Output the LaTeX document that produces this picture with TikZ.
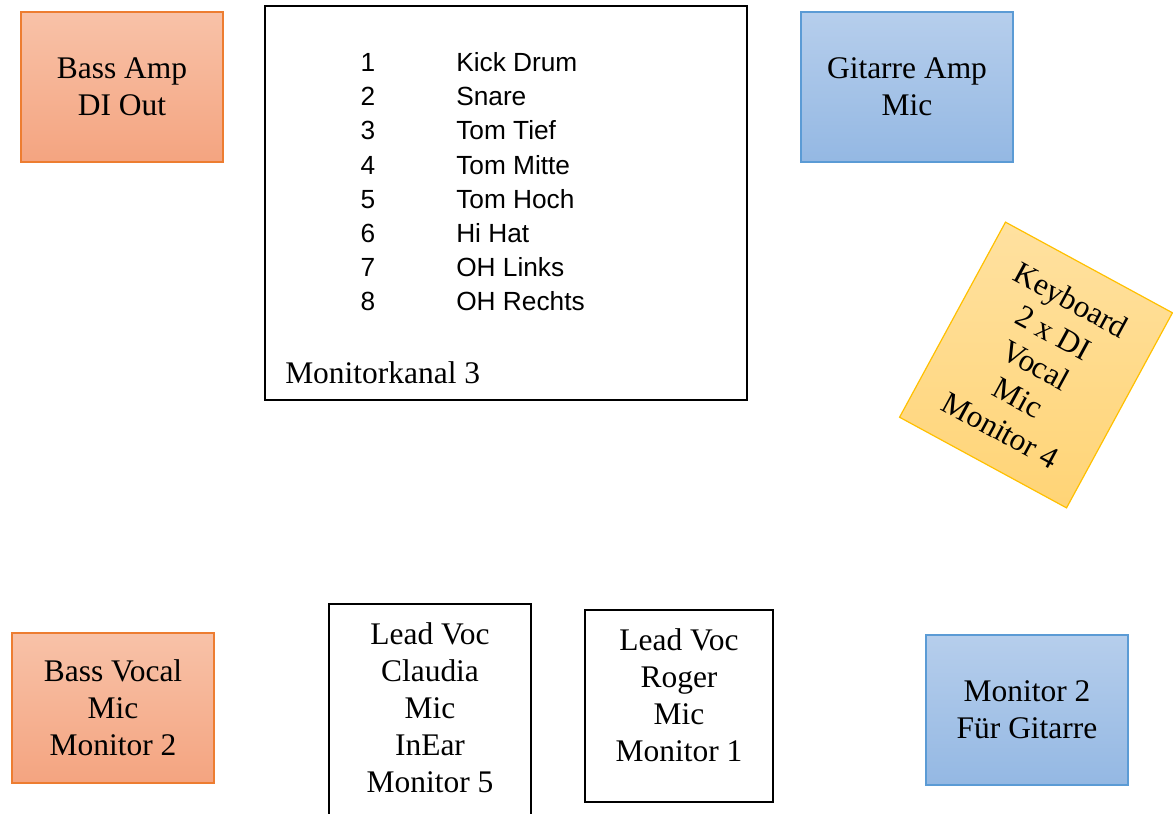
\documentclass[tikz,border=0pt]{standalone}
\usepackage{fontspec}
\setmainfont{Liberation Serif}
\newfontfamily\listfont{Liberation Sans}
\definecolor{orTop}{RGB}{248,194,168}
\definecolor{orBot}{RGB}{244,164,128}
\definecolor{orLine}{RGB}{237,125,49}
\definecolor{blTop}{RGB}{182,206,236}
\definecolor{blBot}{RGB}{148,184,227}
\definecolor{blLine}{RGB}{91,155,213}
\definecolor{yeTop}{RGB}{255,225,160}
\definecolor{yeBot}{RGB}{255,212,118}
\definecolor{yeLine}{RGB}{255,192,0}
\tikzset{
  lbl/.style={font=\fontsize{23.6}{27.75}\selectfont, align=center, inner sep=0pt},
  orbox/.style={draw=orLine, line width=0.9pt, top color=orTop, bottom color=orBot, inner sep=0pt, lbl},
  blbox/.style={draw=blLine, line width=0.9pt, top color=blTop, bottom color=blBot, inner sep=0pt, lbl},
  yebox/.style={draw=yeLine, line width=0.9pt, top color=yeTop, bottom color=yeBot, inner sep=0pt, lbl},
  wbox/.style={draw=black, line width=1.1pt, fill=white, inner sep=0pt},
  li/.style={font=\listfont\fontsize{19.7}{25.5}\selectfont, inner sep=0pt, anchor=base},
}
\begin{document}
\begin{tikzpicture}[x=0.75pt,y=-0.75pt]
\useasboundingbox (0,0) rectangle (1173,813);
% top boxes
\node[orbox, minimum width=151.5pt, minimum height=112.5pt] (bassamp) at (122,87) {Bass Amp\\DI Out};
\node[blbox, minimum width=159pt, minimum height=112.5pt] (gitamp) at (907,87) {Gitarre Amp\\Mic};
% drum list box
\node[wbox, minimum width=361.5pt, minimum height=295.5pt] (drums) at (506,203) {};
\foreach \n/\t [count=\i from 0] in {1/Kick Drum,2/Snare,3/Tom Tief,4/Tom Mitte,5/Tom Hoch,6/Hi Hat,7/OH Links,8/OH Rechts}{
  \node[li] (num\n) at (368,72+34*\i) {\n};
  \node[li, anchor=base west] (ch\n) at (456,72+34*\i) {\t};
}
\node[lbl, anchor=base west] (monk) at (285,383) {Monitorkanal 3};
% keyboard
\node[yebox, rotate=-28.5, minimum width=142.5pt, minimum height=166.5pt] (keys) at (1036,365) {Keyboard\\2 x DI\\Vocal\\Mic\\Monitor 4};
% bottom boxes
\node[orbox, minimum width=151.5pt, minimum height=112.5pt] (bassvoc) at (113,708) {Bass Vocal\\Mic\\Monitor 2};
\node[wbox, minimum width=151.5pt, minimum height=163.5pt] (claudia) at (430,713) {};
\node[lbl] (claudiatxt) at (430,707.5) {Lead Voc\\Claudia\\Mic\\InEar\\Monitor 5};
\node[wbox, minimum width=141pt, minimum height=144pt] (roger) at (679,706) {};
\node[lbl] (rogertxt) at (679,695) {Lead Voc\\Roger\\Mic\\Monitor 1};
\node[blbox, minimum width=151.5pt, minimum height=112.5pt] (mon2) at (1027,710) {Monitor 2\\Für Gitarre};
\end{tikzpicture}
\end{document}
